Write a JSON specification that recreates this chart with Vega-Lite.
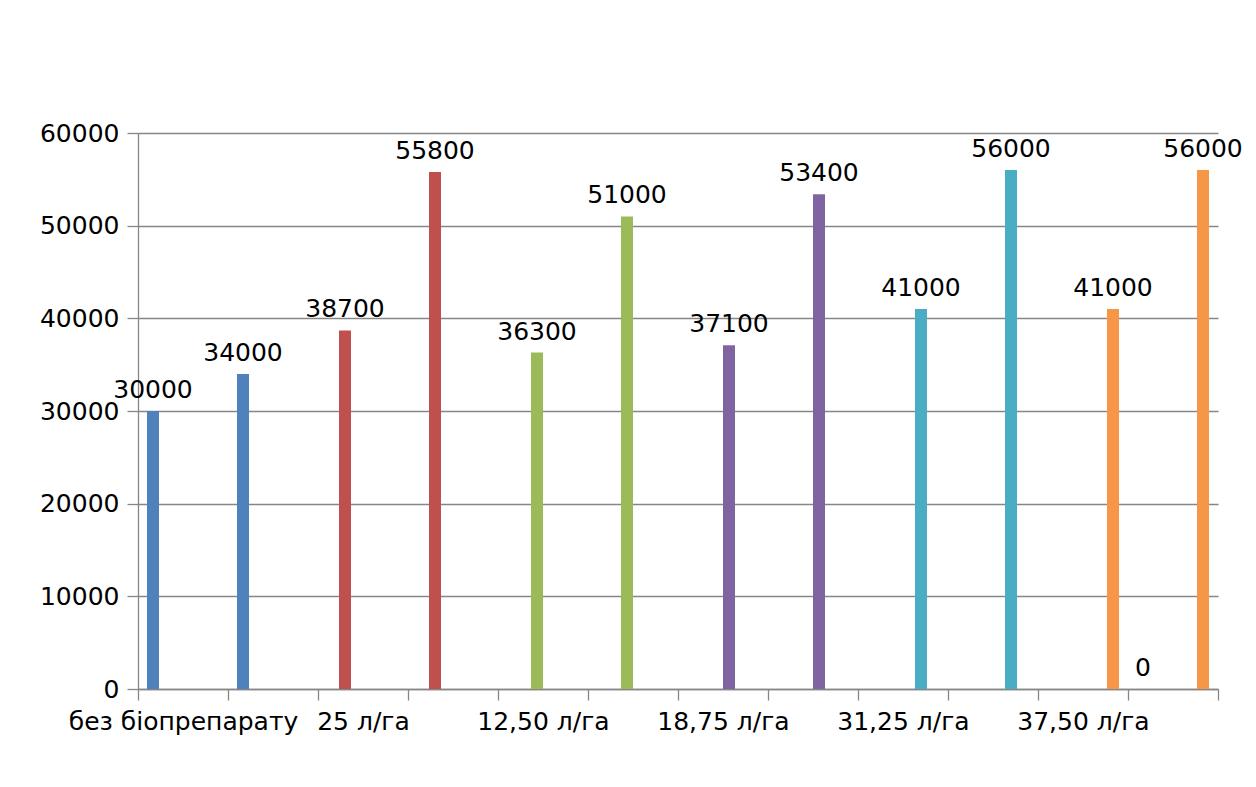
{
  "$schema": "https://vega.github.io/schema/vega-lite/v6.json",
  "width": 1080,
  "height": 556,
  "autosize": {"type": "none"},
  "padding": {"left": 138, "top": 133, "right": 38, "bottom": 98},
  "background": "white",
  "config": {"view": {"stroke": null}, "font": "DejaVu Sans"},
  "data": {
    "values": [
      {"slot": 0, "series": "без біопрепарату", "value": 30000},
      {"slot": 1, "series": "без біопрепарату", "value": 34000},
      {"slot": 2, "series": "25 л/га", "value": 38700},
      {"slot": 3, "series": "25 л/га", "value": 55800},
      {"slot": 4, "series": "12,50 л/га", "value": 36300},
      {"slot": 5, "series": "12,50 л/га", "value": 51000},
      {"slot": 6, "series": "18,75 л/га", "value": 37100},
      {"slot": 7, "series": "18,75 л/га", "value": 53400},
      {"slot": 8, "series": "31,25 л/га", "value": 41000},
      {"slot": 9, "series": "31,25 л/га", "value": 56000},
      {"slot": 10, "series": "37,50 л/га", "value": 41000},
      {"slot": 11, "series": "без біопрепарату", "value": 0},
      {"slot": 11, "series": "37,50 л/га", "value": 56000}
    ]
  },
  "encoding": {
    "x": {
      "field": "slot",
      "type": "ordinal",
      "scale": {"paddingInner": 0, "paddingOuter": 0},
      "axis": {
        "title": null,
        "labelAngle": 0,
        "tickBand": "extent",
        "labelExpr": "['без біопрепарату','','25 л/га','','12,50 л/га','','18,75 л/га','','31,25 л/га','','37,50 л/га',''][datum.value]",
        "labelOverlap": false,
        "labelLimit": 0,
        "labelFontSize": 25,
        "labelColor": "black",
        "tickSize": 11,
        "tickColor": "#868686",
        "tickWidth": 1.3,
        "domainColor": "#868686",
        "domainWidth": 1.3,
        "labelPadding": 9,
        "grid": false
      }
    },
    "xOffset": {
      "field": "series",
      "type": "nominal",
      "scale": {
        "domain": ["без біопрепарату", "25 л/га", "12,50 л/га", "18,75 л/га", "31,25 л/га", "37,50 л/га"],
        "paddingInner": 0,
        "paddingOuter": 0.75
      }
    },
    "y": {
      "field": "value",
      "type": "quantitative",
      "scale": {"domain": [0, 60000], "nice": false},
      "axis": {
        "title": null,
        "values": [0, 10000, 20000, 30000, 40000, 50000, 60000],
        "format": "d",
        "grid": true,
        "gridColor": "#868686",
        "gridWidth": 1.3,
        "tickSize": 11,
        "tickColor": "#868686",
        "tickWidth": 1.3,
        "domainColor": "#868686",
        "domainWidth": 1.3,
        "labelFontSize": 25,
        "labelPadding": 8,
        "labelColor": "black"
      }
    }
  },
  "layer": [
    {
      "mark": {"type": "bar"},
      "encoding": {
        "color": {
          "field": "series",
          "type": "nominal",
          "scale": {
            "domain": ["без біопрепарату", "25 л/га", "12,50 л/га", "18,75 л/га", "31,25 л/га", "37,50 л/га"],
            "range": ["#4F81BD", "#C0504D", "#9BBB59", "#8064A2", "#4BACC6", "#F79646"]
          },
          "legend": null
        }
      }
    },
    {
      "mark": {"type": "text", "dy": -13, "baseline": "alphabetic", "fontSize": 25, "color": "black"},
      "encoding": {"text": {"field": "value", "type": "quantitative", "format": "d"}}
    }
  ]
}
